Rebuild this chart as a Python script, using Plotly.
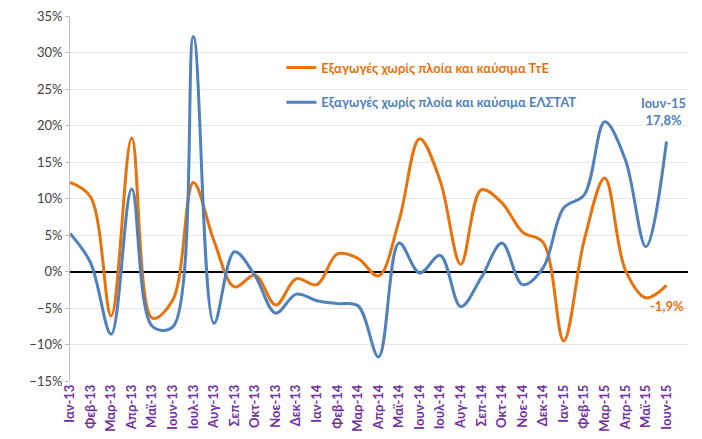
import plotly.graph_objects as go

months = ["Ιαν-13", "Φεβ-13", "Μαρ-13", "Απρ-13", "Μαϊ-13", "Ιουν-13", "Ιουλ-13", "Αυγ-13",
          "Σεπ-13", "Οκτ-13", "Νοε-13", "Δεκ-13", "Ιαν-14", "Φεβ-14", "Μαρ-14", "Απρ-14",
          "Μαϊ-14", "Ιουν-14", "Ιουλ-14", "Αυγ-14", "Σεπ-14", "Οκτ-14", "Νοε-14", "Δεκ-14",
          "Ιαν-15", "Φεβ-15", "Μαρ-15", "Απρ-15", "Μαϊ-15", "Ιουν-15"]

tte = [12.2, 10.2, -6.1, 18.3, -6.4, -3.9, 12.2, 4.2, -2.1, -0.5, -4.6, -1.0, -1.8, 2.4, 1.8, -0.6,
       7.0, 18.2, 12.4, 1.0, 11.2, 9.4, 5.4, 4.0, -9.5, 4.3, 12.8, 0.2, -3.6, -1.9]

elstat = [5.2, 1.2, -8.6, 11.3, -7.5, -7.6, 32.2, -7.1, 2.7, -0.6, -5.7, -3.1, -4.0, -4.4, -4.7, -11.7,
          3.9, -0.2, 2.2, -4.8, -0.8, 3.9, -1.8, 0.5, 8.7, 10.5, 20.5, 15.3, 3.4, 17.8]

name_tte = "Εξαγωγές χωρίς πλοία και καύσιμα ΤτΕ"
name_elstat = "Εξαγωγές χωρίς πλοία και καύσιμα ΕΛΣΤΑΤ"

ORANGE = "#E8720C"
BLUE = "#4F81BD"
PURPLE = "#7030A0"
FONT = "Lato"

fig = go.Figure()
fig.add_trace(go.Scatter(
    x=months, y=tte, mode="lines", legendgroup="a",
    name=f"<span style='color:{ORANGE}'><b>{name_tte}</b></span>",
    line=dict(color=ORANGE, width=3, shape="spline", smoothing=1.0),
))
fig.add_trace(go.Scatter(
    x=months, y=elstat, mode="lines", legendgroup="b",
    name=f"<span style='color:{BLUE}'><b>{name_elstat}</b></span>",
    line=dict(color=BLUE, width=3, shape="spline", smoothing=1.0),
))

fig.add_annotation(x=months[-1], y=elstat[-1], text=f"{months[-1]}<br>17,8%",
                   showarrow=False, yshift=30, xshift=-3,
                   font=dict(color=BLUE, size=13, family=FONT, weight="bold"))
fig.add_annotation(x=months[-1], y=tte[-1], text="-1,9%",
                   showarrow=False, yshift=-21, xshift=0,
                   font=dict(color=ORANGE, size=13, family=FONT, weight="bold"))

fig.update_layout(
    width=702, height=439,
    margin=dict(l=62, r=22, t=8, b=66, autoexpand=False),
    paper_bgcolor="white", plot_bgcolor="white",
    font=dict(family=FONT, size=13, color="#404040"),
    showlegend=True,
    legend=dict(x=0.342, y=0.9, xanchor="left", yanchor="top",
                bgcolor="rgba(0,0,0,0)", font=dict(size=13, family=FONT),
                tracegroupgap=15, traceorder="grouped", itemwidth=30),
    xaxis=dict(
        type="category", tickangle=-90, showgrid=False, zeroline=False,
        showline=False, ticks="", automargin=False, ticklabeloverflow="allow",
        tickfont=dict(color=PURPLE, size=13, family=FONT, weight="bold"),
    ),
    yaxis=dict(
        range=[-15, 35], dtick=5, ticksuffix="%", automargin=False,
        ticklabeloverflow="allow",
        showgrid=True, gridcolor="#E6E6E6", gridwidth=1,
        zeroline=True, zerolinecolor="black", zerolinewidth=2,
        showline=True, linecolor="#BFBFBF", linewidth=1,
        ticks="outside", ticklen=4, tickcolor="#BFBFBF",
        tickfont=dict(color="#404040", size=13, family=FONT),
    ),
)

fig.write_html("out.html")
